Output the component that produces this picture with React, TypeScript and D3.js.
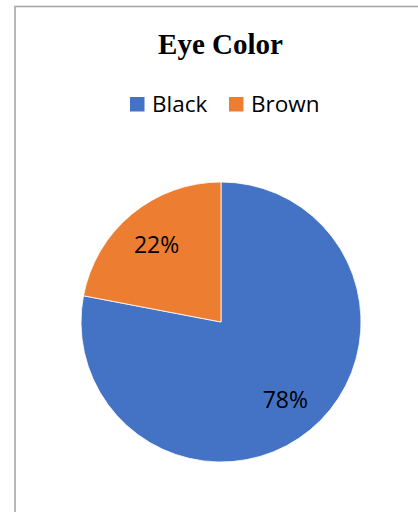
import React from "react";
import * as d3 from "d3";

const categories = ["Black", "Brown"];
const values = [78, 22];
const colors = ["#4472C4", "#ED7D31"];
const title = "Eye Color";

export default function App() {
  const W = 418, H = 512;
  const cx = 221, cy = 322, r = 140;
  const pie = d3.pie<number>().sort(null).startAngle(0).endAngle(2 * Math.PI);
  const arcs = pie(values);
  const arc = d3.arc<d3.PieArcDatum<number>>().innerRadius(0).outerRadius(r);
  const labelArc = d3.arc<d3.PieArcDatum<number>>().innerRadius(101).outerRadius(101);
  const total = d3.sum(values);
  const legendX = [130, 229];
  return (
    <svg width={W} height={H} style={{ position: "absolute", left: 0, top: 0 }}>
      <rect x={0} y={0} width={W} height={H} fill="#fff" />
      <rect x={15} y={6.5} width={420} height={520} fill="#fff" stroke="#a6a6a6" strokeWidth={1.6} />
      <text x={220.5} y={54} textAnchor="middle" fontFamily="'Liberation Serif', 'Times New Roman', serif" fontWeight="bold" fontSize={29} fill="#000">
        {title}
      </text>
      {categories.map((c, i) => (
        <g key={c}>
          <rect x={legendX[i]} y={97} width={14.5} height={14.5} fill={colors[i]} />
          <text x={legendX[i] + 22} y={111.5} fontFamily="'Open Sans', sans-serif" fontSize={22.5} fill="#000">
            {c}
          </text>
        </g>
      ))}
      <g transform={`translate(${cx},${cy})`}>
        {arcs.map((a, i) => (
          <path key={i} d={arc(a) || ""} fill={colors[i]} stroke="#fff" strokeWidth={0.8} />
        ))}
        {arcs.map((a, i) => {
          const [lx, ly] = labelArc.centroid(a);
          return (
            <text key={"l" + i} x={lx} y={ly + 8.5} textAnchor="middle" fontFamily="'Open Sans', sans-serif" fontSize={23} fill="#000">
              {Math.round((values[i] / total) * 100) + "%"}
            </text>
          );
        })}
      </g>
    </svg>
  );
}
